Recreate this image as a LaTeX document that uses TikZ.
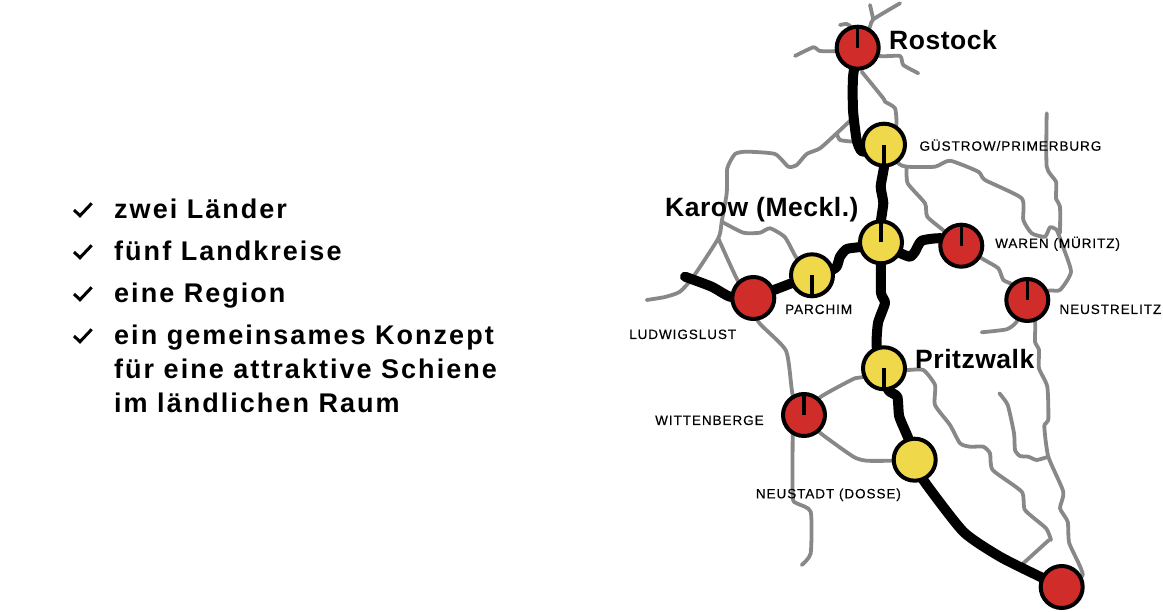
\documentclass[tikz,border=0pt]{standalone}
\usepackage{fontspec}
\setmainfont{Liberation Sans}
\newfontfamily\listfont{Liberation Sans}[LetterSpace=7.5]
\newfontfamily\townfont{Liberation Sans}[LetterSpace=2]
\newfontfamily\smallfont{Liberation Sans}[LetterSpace=7,FakeBold=0.25]
\usetikzlibrary{backgrounds}
\definecolor{stopred}{HTML}{D02C2A}
\definecolor{stopyellow}{HTML}{EFD84A}
\definecolor{linegray}{HTML}{888888}
\tikzset{
  redstop/.style={circle,draw=black,line width=4pt,fill=stopred,minimum size=42pt,inner sep=0pt},
  yellowstop/.style={circle,draw=black,line width=4pt,fill=stopyellow,minimum size=42pt,inner sep=0pt},
  stoptick/.style={line width=3.5pt},
  branchline/.style={draw=linegray,line width=3.8pt,smooth,tension=.35,line cap=round,line join=round},
  routeline/.style={draw=black,line width=10pt,smooth,tension=.35,line cap=round,line join=round},
  bigtown/.style={anchor=base west,inner sep=0pt,font=\townfont\fontsize{26.5}{27}\selectfont\bfseries},
  smalltown/.style={anchor=base west,inner sep=0pt,font=\smallfont\fontsize{13.5}{14}\selectfont},
  listitem/.style={anchor=base west,inner sep=0pt,font=\listfont\fontsize{27}{33.5}\selectfont\bfseries,align=left},
  tickmark/.style={line width=3pt}
}
\begin{document}
\begin{tikzpicture}[x=1pt, y=-1pt]
\useasboundingbox (0,0) rectangle (1163,612);

\node[redstop] (rostock) at (857.7,47.7) {};
\node[yellowstop] (guestrow) at (884,144.7) {};
\node[yellowstop] (karow) at (881,242.3) {};
\node[redstop] (waren) at (961.3,245.7) {};
\node[yellowstop] (parchim) at (812,275.3) {};
\node[redstop] (ludwigslust) at (753.3,298) {};
\node[redstop] (neustrelitz) at (1027.3,300) {};
\node[yellowstop] (pritzwalk) at (884,368.3) {};
\node[redstop] (wittenberge) at (804,415) {};
\node[yellowstop] (neustadt) at (914.7,459.7) {};
\node[redstop] (southend) at (1061.7,587) {};

\draw[stoptick] (rostock.center) -- (rostock.north);
\draw[stoptick] (guestrow.center) -- (guestrow.south);
\draw[stoptick] (karow.center) -- (karow.north);
\draw[stoptick] (waren.center) -- (waren.north);
\draw[stoptick] (parchim.center) -- (parchim.south);
\draw[stoptick] (neustrelitz.center) -- (neustrelitz.north);
\draw[stoptick] (pritzwalk.center) -- (pritzwalk.south);
\draw[stoptick] (wittenberge.center) -- (wittenberge.north);

\coordinate (northfork) at (873.3,19.3);
\coordinate (northa) at (900,3.3);
\coordinate (northb) at (870,5);
\coordinate (northc) at (840,25);
\coordinate (westend) at (795,56);
\coordinate (eastend) at (918.3,73.3);
\coordinate (forka) at (836.7,133.3);
\coordinate (forkb) at (721.7,221.7);
\coordinate (forkc) at (718.3,238.3);
\coordinate (forkd) at (906.7,166.7);
\coordinate (forke) at (1060,233);
\coordinate (forkf) at (1048.3,456.7);
\coordinate (forkg) at (1049,540);
\coordinate (forkh) at (853,118);
\coordinate (forki) at (853.3,141.7);
\coordinate (ludwigend) at (646.7,300);
\coordinate (northline) at (1046.7,113.3);
\coordinate (streliend) at (981.7,332.3);
\coordinate (sideend) at (999.3,393.3);
\coordinate (southstub) at (801.7,565);
\coordinate (southbranch) at (1023.3,563.3);
\coordinate (routeend) at (685,276.7);

\begin{scope}[on background layer]
\draw[branchline] plot coordinates {(rostock) (870,26.7) (northfork) (northa)};
\draw[branchline] (northb) -- (northfork);
\draw[branchline] plot coordinates {(northc) (846.7,24) (851.7,28) (rostock)};
\draw[branchline] plot coordinates {(westend) (813.3,47.3) (820,51) (836.7,51) (rostock)};
\draw[branchline] plot coordinates {(rostock) (880,56) (900,56) (903.3,65) (eastend)};
\draw[branchline] plot coordinates {(861.7,71.7) (883.3,98.3) (885,101.7) (895,108.3) (896,126.7) (guestrow)};
\draw[branchline] plot coordinates {(forkh) (forka) (820,148.3) (806.7,154) (796.7,165) (788.3,166.7) (775,154) (746.7,151.7) (735,154) (727.3,168.3) (726.7,193.3) (forkb) (forkc) (693.3,276.7) (680,291.7) (665,297) (ludwigend)};
\draw[branchline] plot coordinates {(forka) (840,140) (forki)};
\draw[branchline] plot coordinates {(forkc) (738.3,281.7) (ludwigslust)};
\draw[branchline] plot coordinates {(forkb) (743.3,232.7) (760,232.7) (770,228.3) (785,237.3) (796.7,258.3) (parchim)};
\draw[branchline] plot coordinates {(guestrow) (898.3,163.3) (forkd) (935,166.7) (950,160.7) (978.3,171.7) (985,180) (1021.7,198.3) (1023.3,220) (1031.7,233.3) (1045,236.7) (1050,227.3) (1056.7,230) (1061.7,243.3) (1071,271.7) (1060,290) (1048.3,290.7) (neustrelitz)};
\draw[branchline] plot coordinates {(northline) (1046.7,166.7) (1056,181.7) (1056,198.3) (1060,206.7) (forke)};
\draw[branchline] plot coordinates {(forkd) (907.7,183.3) (925,203.3) (927.3,216.7) (945,231.7) (waren)};
\draw[branchline] plot coordinates {(waren) (983.3,259.3) (998.3,268.3) (1003.3,280) (1013.3,285) (neustrelitz)};
\draw[branchline] plot coordinates {(neustrelitz) (1016.7,321.7) (1006.7,329.3) (streliend)};
\draw[branchline] plot coordinates {(neustrelitz) (1035,321.7) (1035,341.7) (1039,350) (1039,368.3) (1047.3,386.7) (1048.3,420) (1044.3,426) (forkf) (1063.3,491.7) (1060,508.3) (1067.7,521.7) (1069.3,543.3) (1082.7,575) (southend)};
\draw[branchline] plot coordinates {(sideend) (1007.7,405) (1014,433.3) (1015,450) (1020,456) (1028.3,456.7) (1036.7,460) (forkf)};
\draw[branchline] plot coordinates {(pritzwalk) (906.7,370) (923.3,370) (935,385) (935,405) (950,425) (960,443.3) (970,446.7) (983.3,446.7) (990,453.3) (992.7,470) (1021.7,491.7) (1025,510) (1046,528.3) (1051,540)};
\draw[branchline] (forkg) -- (southbranch);
\draw[branchline] plot coordinates {(ludwigslust) (758.3,321.7) (786,350.7) (792.7,395) (wittenberge)};
\draw[branchline] plot coordinates {(792.7,432) (792.7,496.7) (796.7,503.3) (810.7,511.7) (810.7,553.3) (southstub)};
\draw[branchline] plot coordinates {(wittenberge) (820,397.3) (853.3,379) (861.7,377.3) (pritzwalk)};
\draw[branchline] plot coordinates {(wittenberge) (820,432.7) (853.3,456.7) (866.7,460.7) (893.3,460.7) (neustadt)};

\draw[routeline] plot coordinates {(rostock) (853,77) (853,110) (856.7,140) (862.7,151.7) (guestrow)};
\draw[routeline] plot coordinates {(guestrow) (884,166.7) (880.7,186.7) (883.3,203) (880.7,223) (karow)};
\draw[routeline] plot coordinates {(karow) (860,247) (846.7,249) (840,256.7) (836.7,266.7) (830,270.7) (parchim)};
\draw[routeline] (parchim) -- (ludwigslust);
\draw[routeline] plot coordinates {(ludwigslust) (730,296.7) (711.7,286.7) (routeend)};
\draw[routeline] plot coordinates {(karow) (900,253) (910,256.7) (915,251.7) (921.7,240.7) (941.7,238.3) (waren)};
\draw[routeline] plot coordinates {(karow) (881,263) (881,293) (885,303) (878,323) (876.7,346.7) (pritzwalk)};
\draw[routeline] plot coordinates {(pritzwalk) (888.3,390) (897.3,396.7) (899.3,416.7) (908.3,438.3) (neustadt)};
\draw[routeline] plot coordinates {(neustadt) (923.3,480) (963.3,531.7) (1000,556.7) (1040,576.7) (southend)};
\end{scope}

\node[bigtown] (rostocklabel) at (889,50) {Rostock};
\node[bigtown] (karowlabel) at (665,217) {Karow (Meckl.)};
\node[bigtown] (pritzwalklabel) at (915,368.3) {Pritzwalk};
\node[smalltown] (guestrowlabel) at (919.3,150.7) {GÜSTROW/PRIMERBURG};
\node[smalltown] (warenlabel) at (995,248) {WAREN (MÜRITZ)};
\node[smalltown] (parchimlabel) at (785,314) {PARCHIM};
\node[smalltown] (strelitzlabel) at (1059.3,314) {NEUSTRELITZ};
\node[smalltown] (ludwiglabel) at (629,339) {LUDWIGSLUST};
\node[smalltown] (wittenlabel) at (655,425) {WITTENBERGE};
\node[smalltown] (neustadtlabel) at (755.7,498.3) {NEUSTADT (DOSSE)};

\foreach \y in {0,42,84,126}
  \draw[tickmark] (74,210+\y) -- (80,215.7+\y) -- (91.7,203.3+\y);

\node[listitem] (itema) at (114,218.8) {zwei Länder};
\node[listitem] (itemb) at (114,260.8) {fünf Landkreise};
\node[listitem] (itemc) at (114,303) {eine Region};
\node[listitem] (itemd) at (114,345) {ein gemeinsames Konzept};
\node[listitem] (iteme) at (114,378.8) {für eine attraktive Schiene};
\node[listitem] (itemf) at (114,412.2) {im ländlichen Raum};
\end{tikzpicture}
\end{document}
